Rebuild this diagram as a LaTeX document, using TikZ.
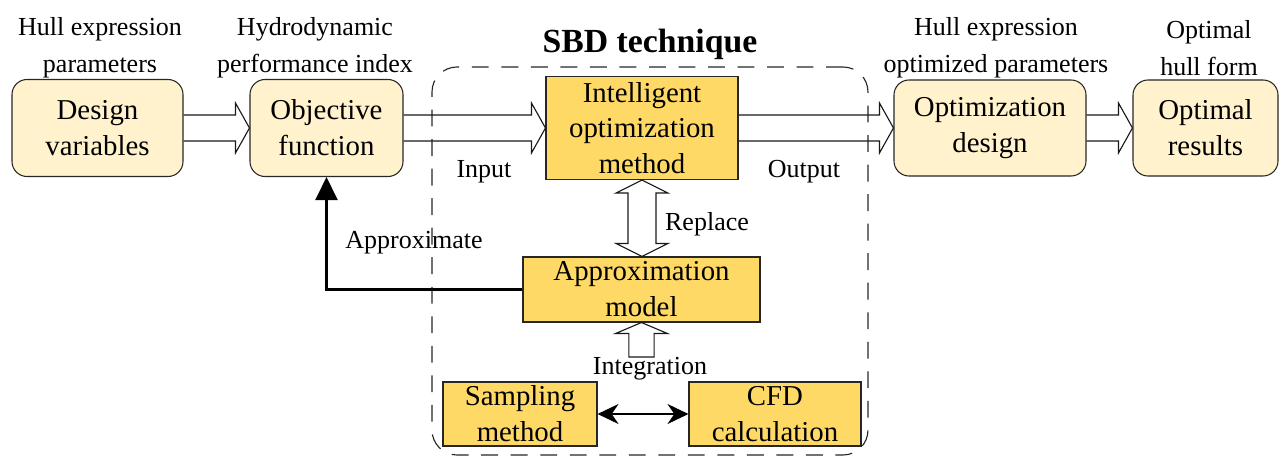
\documentclass[tikz,border=0pt]{standalone}
\usepackage{fontspec}
\setmainfont{Liberation Serif}
\usetikzlibrary{arrows.meta, positioning, calc}
\usepackage{xcolor}

\definecolor{lightgold}{HTML}{FFF2CC}
\definecolor{darkgold}{HTML}{FFD966}

\newcommand{\boxfont}{\fontsize{41}{51}\selectfont}
\newcommand{\notefont}{\fontsize{37}{52}\selectfont}

% wide open arrow pointing right, from #1 to #2
\newcommand{\hollowright}[2]{%
    \draw [hollow] let \p1=(#1), \p2=(#2) in
        (\x1,\y1+0.65cm) -- (\x2-0.7cm,\y1+0.65cm) -- (\x2-0.7cm,\y1+1.25cm)
        -- (\x2,\y1) -- (\x2-0.7cm,\y1-1.25cm) -- (\x2-0.7cm,\y1-0.65cm)
        -- (\x1,\y1-0.65cm);}
% wide open arrow with two heads, vertical, from #1 (top) to #2 (bottom)
\newcommand{\hollowboth}[2]{%
    \draw [hollow] let \p1=(#1), \p2=(#2) in
        (\x1,\y1) -- (\x1+1.3cm,\y1-0.65cm) -- (\x1+0.7cm,\y1-0.65cm)
        -- (\x1+0.7cm,\y2+0.65cm) -- (\x1+1.3cm,\y2+0.65cm) -- (\x1,\y2)
        -- (\x1-1.3cm,\y2+0.65cm) -- (\x1-0.7cm,\y2+0.65cm)
        -- (\x1-0.7cm,\y1-0.65cm) -- (\x1-1.3cm,\y1-0.65cm) -- cycle;}
% wide open arrow pointing up, from #1 (bottom) to #2 (top)
\newcommand{\hollowup}[2]{%
    \draw [hollow] let \p1=(#1), \p2=(#2) in
        (\x2-0.63cm,\y1) -- (\x2-0.63cm,\y2-0.55cm) -- (\x2-1.3cm,\y2-0.55cm)
        -- (\x2,\y2) -- (\x2+1.3cm,\y2-0.55cm) -- (\x2+0.63cm,\y2-0.55cm)
        -- (\x2+0.63cm,\y1) -- cycle;}

\begin{document}
\begin{tikzpicture}[
        stage/.style={
            rectangle,
            draw=black!85,
            line width=1.5pt,
            fill=lightgold,
            rounded corners=0.75cm,
            align=center,
            font=\boxfont,
            inner sep=0pt
        },
        method/.style={
            rectangle,
            draw=black!85,
            line width=1.5pt,
            fill=darkgold,
            align=center,
            font=\boxfont,
            inner sep=0pt
        },
        note/.style={align=center, font=\notefont, inner sep=0pt},
        hollow/.style={draw=black!90, line width=1.6pt, line join=miter},
        approxarrow/.style={-{Triangle[length=1.15cm, width=1.1cm]}, line width=3pt},
        biarrow/.style={{Stealth[length=1.05cm, width=1cm]}-{Stealth[length=1.05cm, width=1cm]}, line width=2.4pt},
        sbd/.style={draw=black!85, dash pattern=on 24pt off 18pt, line width=1.6pt, rounded corners=1.25cm}
    ]

    \useasboundingbox (0,0) rectangle (63.95,-22.95);

    % --- SBD FRAME ---
    \node (sbdbox) [sbd, minimum width=21.8cm, minimum height=19.4cm] at (32.5,-13.05) {};
    \node (sbdtitle) [font=\fontsize{48}{56}\selectfont\bfseries, anchor=base, inner sep=0pt] at (32.5,-2.6) {SBD technique};

    % --- NODES ---
    \node (dv) [stage, minimum width=8.55cm, minimum height=4.85cm] at (4.875,-6.4) {Design\\variables};
    \node (obj) [stage, minimum width=7.65cm, minimum height=4.85cm] at (16.325,-6.4) {Objective\\function};
    \node (iom) [method, minimum width=9.6cm, minimum height=5.15cm] at (32.1,-6.4) {Intelligent\\optimization\\method};
    \node (od) [stage, minimum width=9.6cm, minimum height=4.8cm] at (49.5,-6.4) {Optimization\\design};
    \node (ores) [stage, minimum width=7.25cm, minimum height=4.8cm] at (60.275,-6.4) {Optimal\\results};

    \node (am) [method, minimum width=11.85cm, minimum height=3.25cm] at (32.075,-14.475) {Approximation\\model};
    \node (sm) [method, minimum width=7.7cm, minimum height=3.2cm] at (26,-20.7) {Sampling\\method};
    \node (cfd) [method, minimum width=8.6cm, minimum height=3.2cm] at (38.75,-20.7) {CFD\\calculation};

    % --- LABELS ---
    \node (hullpar) [note] at (5.0,-2.4) {Hull expression\\parameters};
    \node (hydro) [note] at (15.75,-2.4) {Hydrodynamic\\performance index};
    \node (hullopt) [note] at (49.8,-2.4) {Hull expression\\optimized parameters};
    \node (hullform) [note] at (60.45,-2.4) {Optimal\\hull form};

    \node (input) [note, anchor=base] at (24.2,-8.85) {Input};
    \node (output) [note, anchor=base] at (40.2,-8.85) {Output};
    \node (replace) [note, anchor=base] at (35.35,-11.5) {Replace};
    \node (approx) [note, anchor=base] at (20.7,-12.4) {Approximate};
    \node (integ) [note, anchor=north] at (32.5,-17.85) {Integration};

    % --- ARROWS ---
    \hollowright{dv.east}{obj.west}
    \hollowright{obj.east}{iom.west}
    \hollowright{iom.east}{od.west}
    \hollowright{od.east}{ores.west}
    \hollowboth{iom.south}{am.north}
    \hollowup{integ.north}{am.south}

    \draw [approxarrow] (am.west) -| (obj.south);
    \draw [biarrow] (sm) -- (cfd);

\end{tikzpicture}
\end{document}
